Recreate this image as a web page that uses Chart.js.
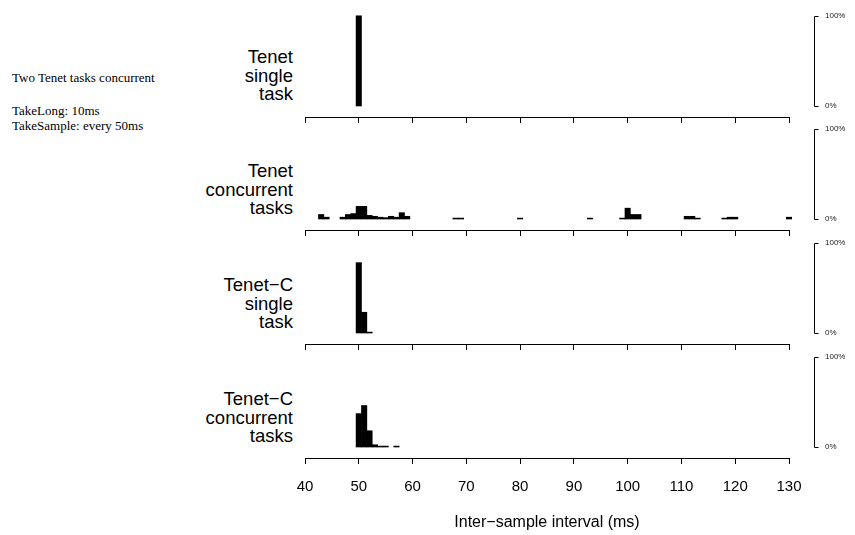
<!DOCTYPE html>
<html>
<head>
<meta charset="utf-8">
<script src="https://cdn.jsdelivr.net/npm/chart.js@4.4.0/dist/chart.umd.min.js"></script>
<style>
  body { margin: 0; background: #fff; }
  #wrap { position: relative; width: 855px; height: 535px; overflow: hidden; }
  canvas { position: absolute; left: 0; }
  .lab { position: absolute; right: 562px; text-align: right; font: 18.5px "Liberation Sans", Arial, sans-serif; line-height: 18.5px; color: #000; white-space: nowrap; }
  .note { position: absolute; left: 12px; font: 13px "Liberation Serif", "Times New Roman", serif; line-height: 15px; color: #000; white-space: nowrap; }
</style>
</head>
<body>
<div id="wrap">
  <div class="note" style="top:70px">Two Tenet tasks concurrent</div>
  <div class="note" style="top:103px">TakeLong: 10ms<br>TakeSample: every 50ms</div>

  <div class="lab" style="top:48px">Tenet<br>single<br>task</div>
  <div class="lab" style="top:162px">Tenet<br>concurrent<br>tasks</div>
  <div class="lab" style="top:276px">Tenet−C<br>single<br>task</div>
  <div class="lab" style="top:390px">Tenet−C<br>concurrent<br>tasks</div>

  <canvas id="p1" width="855" height="124" style="top:0px"></canvas>
  <canvas id="p2" width="855" height="124" style="top:113px"></canvas>
  <canvas id="p3" width="855" height="124" style="top:227px"></canvas>
  <canvas id="p4" width="855" height="195" style="top:341px"></canvas>
</div>
<script>
// tick labels on the interval axis (ms)
const xTicks = [40, 50, 60, 70, 80, 90, 100, 110, 120, 130];
const yTicks = [0, 100];

// histogram bins (ms) and share of samples (%) per panel
const tenetSingleBins = [50];
const tenetSinglePct = [100];

const tenetConcBins = [43, 44, 47, 48, 49, 50, 51, 52, 53, 54, 55, 56, 57, 58, 59,
  68, 69, 80, 93, 99, 100, 101, 102, 111, 112, 113, 118, 119, 120, 130];
const tenetConcPct = [5, 2, 2, 5, 6, 14, 14, 4, 3, 2, 1.5, 3, 2, 7, 3,
  1, 1, 1, 1, 1, 12, 5, 5, 3, 3, 1, 1, 2, 2, 2];

const cSingleBins = [50, 51, 52];
const cSinglePct = [78, 23, 1];

const cConcBins = [50, 51, 52, 53, 54, 55, 57];
const cConcPct = [37, 46, 18, 2.5, 1, 1, 1];

Chart.defaults.font.family = '"Liberation Sans", Arial, sans-serif';

// every 1 ms bin on the axis, empty ones at 0 so bars get a 1 ms width
function fullBins(bins, pct) {
  const out = [];
  for (let ms = xTicks[0]; ms <= xTicks[xTicks.length - 1]; ms++) {
    const i = bins.indexOf(ms);
    out.push({ x: ms, y: i < 0 ? 0 : pct[i] });
  }
  return out;
}

// percent axis line only spans 0..100, with small ticks to the right
const pctAxis = {
  id: 'pctAxis',
  afterDraw(chart) {
    const y = chart.scales.y;
    const ctx = chart.ctx;
    const x0 = Math.round(y.left) + 0.5;
    const top = Math.round(y.getPixelForValue(100)) + 0.5;
    const bot = Math.round(y.getPixelForValue(0)) + 0.5;
    ctx.save();
    ctx.strokeStyle = '#000';
    ctx.lineWidth = 1;
    ctx.beginPath();
    ctx.moveTo(x0 + 4, top);
    ctx.lineTo(x0, top);
    ctx.lineTo(x0, bot);
    ctx.lineTo(x0 + 4, bot);
    ctx.stroke();
    ctx.restore();
  }
};

function makePanel(id, bins, pct, last) {
  const ctx = document.getElementById(id).getContext('2d');
  return new Chart(ctx, {
    type: 'bar',
    data: {
      datasets: [{
        data: fullBins(bins, pct),
        backgroundColor: '#000',
        borderWidth: 0,
        inflateAmount: c => (c.raw && c.raw.y > 0 ? 0.33 : 0),
        barPercentage: 1,
        categoryPercentage: 1,
        clip: false,
        xAxisID: 'x',
        yAxisID: 'y'
      }]
    },
    options: {
      responsive: false,
      animation: false,
      events: [],
      layout: { padding: { top: 15, left: 305, right: 0, bottom: 0 } },
      plugins: { legend: { display: false }, tooltip: { enabled: false } },
      scales: {
        x: {
          type: 'linear', position: 'bottom', weight: 1,
          min: 40, max: 130, offset: false,
          afterBuildTicks: s => { s.ticks = xTicks.map(v => ({ value: v })); },
          afterFit: s => { s.height = last ? 78 : 7; },
          grid: { drawOnChartArea: false, drawTicks: true, tickLength: 6, color: '#000', offset: false },
          border: { display: true, color: '#000', width: 1 },
          ticks: { display: last, padding: 14, color: '#000', font: { size: 15 }, maxRotation: 0, autoSkip: false },
          title: { display: last, text: 'Inter−sample interval (ms)', color: '#000', font: { size: 16 }, padding: { top: 0, bottom: 4 } }
        },
        // gap between the zero line and the axis line below it
        xgap: {
          type: 'linear', position: 'bottom', weight: 0,
          grid: { display: false }, border: { display: false }, ticks: { display: false },
          afterFit: s => { s.height = 11; }
        },
        y: {
          type: 'linear', position: 'right', weight: 1,
          min: 0, max: 100,
          afterBuildTicks: s => { s.ticks = yTicks.map(v => ({ value: v })); },
          afterFit: s => { s.width = 41; },
          grid: { display: false, drawTicks: false },
          border: { display: false },
          ticks: { padding: 11, color: '#222', font: { size: 8 }, callback: v => v + '%' }
        },
        // gap between the 130 ms end and the percent axis
        ygap: {
          type: 'linear', position: 'right', weight: 0,
          grid: { display: false }, border: { display: false }, ticks: { display: false },
          afterFit: s => { s.width = 25; }
        }
      }
    },
    plugins: [pctAxis]
  });
}

makePanel('p1', tenetSingleBins, tenetSinglePct, false);
makePanel('p2', tenetConcBins, tenetConcPct, false);
makePanel('p3', cSingleBins, cSinglePct, false);
makePanel('p4', cConcBins, cConcPct, true);
</script>
</body>
</html>
